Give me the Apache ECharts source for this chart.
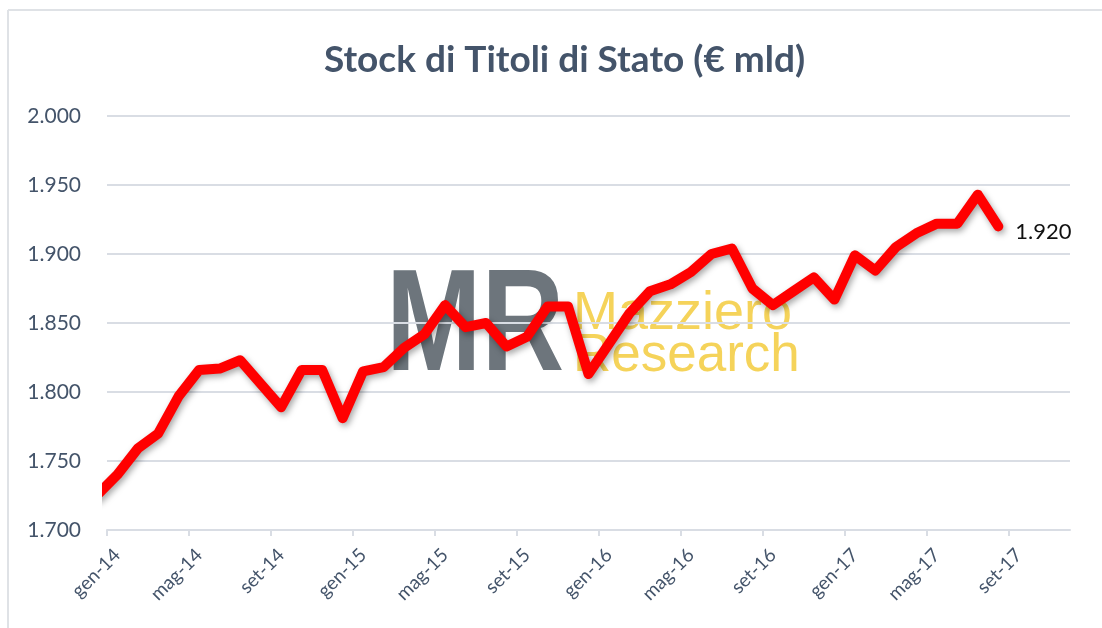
<!DOCTYPE html>
<html>
<head>
<meta charset="utf-8">
<script src="https://cdn.jsdelivr.net/npm/echarts@6/dist/echarts.min.js"></script>
<style>
  html, body { margin: 0; padding: 0; background: #fff; }
  #chart { width: 1102px; height: 628px; }
</style>
</head>
<body>
<div id="chart"></div>
<script>
// mesi (il primo punto cade prima dell'inizio dell'asse e viene tagliato)
const mesi = [
  'dic-13',
  'gen-14', 'feb-14', 'mar-14', 'apr-14', 'mag-14', 'giu-14', 'lug-14', 'ago-14', 'set-14', 'ott-14', 'nov-14', 'dic-14',
  'gen-15', 'feb-15', 'mar-15', 'apr-15', 'mag-15', 'giu-15', 'lug-15', 'ago-15', 'set-15', 'ott-15', 'nov-15', 'dic-15',
  'gen-16', 'feb-16', 'mar-16', 'apr-16', 'mag-16', 'giu-16', 'lug-16', 'ago-16', 'set-16', 'ott-16', 'nov-16', 'dic-16',
  'gen-17', 'feb-17', 'mar-17', 'apr-17', 'mag-17', 'giu-17', 'lug-17', 'ago-17'
];
// stock in € mld
const stock = [
  1725,
  1740, 1759, 1770, 1797, 1816, 1817, 1823, 1806, 1789, 1816, 1816, 1781,
  1815, 1818, 1832, 1842, 1863, 1847, 1850, 1833, 1840, 1862, 1862, 1813,
  1835, 1857, 1873, 1878, 1887, 1900, 1904, 1875, 1863, 1873, 1883, 1867,
  1899, 1888, 1905, 1915, 1922, 1922, 1943, 1920
];
const etichetteX = ['gen-14', 'mag-14', 'set-14', 'gen-15', 'mag-15', 'set-15',
  'gen-16', 'mag-16', 'set-16', 'gen-17', 'mag-17', 'set-17'];
const tickY = [1700, 1750, 1800, 1850, 1900, 1950, 2000];

const fmt = v => String(v).replace(/\B(?=(\d{3})+(?!\d))/g, '.');

const ticksX = etichetteX.map((_, j) => j * 4);
// le etichette stanno a metà mese, i tick all'inizio
const labelsX = ticksX.map(v => v + 0.5);
const punti = stock.map((v, i) => ({ name: mesi[i], value: [i - 0.5, v] }));

const chart = echarts.init(document.getElementById('chart'));
chart.setOption({
  backgroundColor: '#fff',
  animation: false,
  title: {
    text: 'Stock di Titoli di Stato (€ mld)',
    left: 319,
    top: 37,
    textStyle: {
      color: '#44546a',
      fontFamily: 'Lato',
      fontWeight: 'bold',
      fontSize: 37
    }
  },
  graphic: [
    {
      type: 'group',
      z: -10,
      children: [
        { type: 'line', shape: { x1: 8, y1: 10, x2: 8, y2: 628 }, style: { stroke: '#dfe2e6', lineWidth: 2 } },
        { type: 'line', shape: { x1: 8, y1: 10, x2: 1102, y2: 10 }, style: { stroke: '#dfe2e6', lineWidth: 2 } },
        {
          type: 'text',
          x: 386, y: 330,
          scaleX: 0.79,
          style: {
            text: 'MR',
            font: 'bold 145px "Liberation Sans"',
            fill: '#6d757c',
            verticalAlign: 'middle'
          }
        },
        {
          type: 'text',
          x: 573, y: 314,
          style: {
            text: 'Mazziero',
            font: '54px "Liberation Sans"',
            fill: '#f5d35a',
            verticalAlign: 'middle'
          }
        },
        {
          type: 'text',
          x: 573, y: 356,
          style: {
            text: 'Research',
            font: '53px "Liberation Sans"',
            fill: '#f5d35a',
            verticalAlign: 'middle'
          }
        }
      ]
    }
  ],
  grid: { left: 107, right: 32, top: 116, bottom: 98 },
  xAxis: {
    type: 'value',
    min: 0,
    max: 47,
    interval: 4,
    axisLine: { show: true, lineStyle: { color: '#d9dde4', width: 2 } },
    axisTick: { show: true, length: 6, customValues: ticksX, lineStyle: { color: '#d9dde4', width: 2 } },
    splitLine: { show: false },
    axisLabel: {
      customValues: labelsX,
      rotate: 45,
      margin: 22,
      color: '#44546a',
      fontFamily: 'Lato',
      fontSize: 19,
      formatter: v => etichetteX[Math.floor(v / 4)] || ''
    }
  },
  yAxis: {
    type: 'value',
    min: tickY[0],
    max: tickY[tickY.length - 1],
    interval: 50,
    axisLine: { show: false },
    axisTick: { show: false },
    splitLine: { lineStyle: { color: '#d9dde4', width: 2 } },
    axisLabel: {
      margin: 26,
      color: '#44546a',
      fontFamily: 'Lato',
      fontSize: 21,
      formatter: v => fmt(v)
    }
  },
  series: [{
    type: 'line',
    data: punti,
    showSymbol: false,
    symbol: 'none',
    clip: true,
    lineStyle: {
      color: '#ff0000',
      width: 10,
      join: 'round',
      cap: 'round',
      shadowColor: 'rgba(0,0,0,0.35)',
      shadowBlur: 6,
      shadowOffsetX: 2,
      shadowOffsetY: 3
    },
    endLabel: {
      show: true,
      distance: 17,
      offset: [0, 6],
      formatter: d => fmt(d.value[1]),
      color: '#111',
      fontSize: 22,
      fontFamily: 'Lato'
    },
    z: 5
  }]
});
</script>
</body>
</html>
